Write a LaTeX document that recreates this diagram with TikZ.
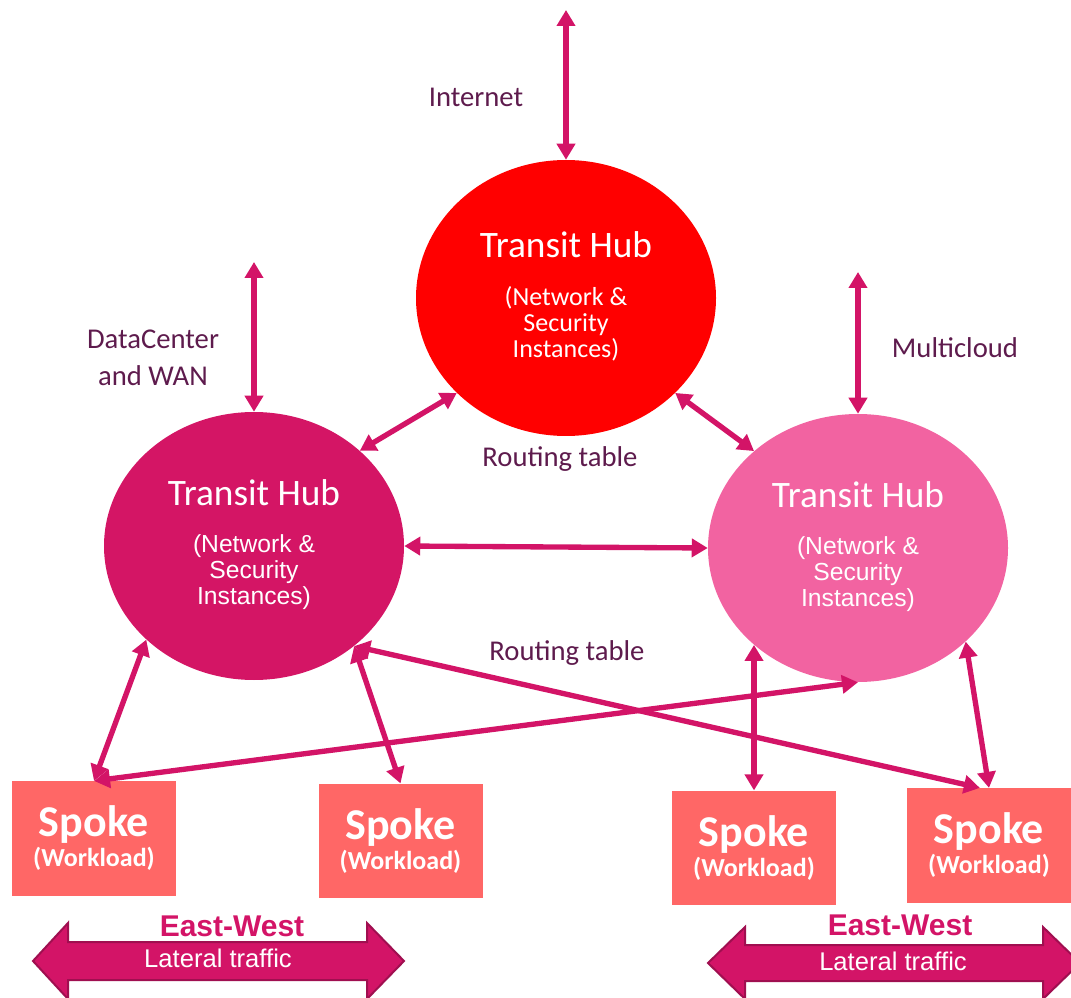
\documentclass[tikz,border=0pt]{standalone}
\usepackage{fontspec}
\setmainfont{Carlito}
\newfontfamily\arialfont{Liberation Sans}
\usetikzlibrary{shapes.geometric,arrows.meta,calc,positioning}
\definecolor{hubred}{HTML}{FF0000}
\definecolor{hubmag}{HTML}{D41565}
\definecolor{hubpink}{HTML}{F263A1}
\definecolor{spokefill}{HTML}{FF6766}
\definecolor{linkc}{HTML}{D31467}
\definecolor{labelc}{HTML}{5E1B4D}
\definecolor{fatedge}{HTML}{A00F50}
\tikzset{
  hub/.style={ellipse, minimum width=225pt, minimum height=201pt, inner sep=0pt},
  hubhead/.style={text=white, font=\fontsize{28}{30}\selectfont},
  hubbody/.style={text=white, align=center, font=\fontsize{19.5}{19.5}\selectfont},
  spoke/.style={rectangle, fill=spokefill, minimum width=123pt, minimum height=86pt,
    inner sep=0pt, text=white, align=center, font=\bfseries\fontsize{33}{22.5}\selectfont},
  lbl/.style={text=labelc, align=center, font=\fontsize{21.5}{27.75}\selectfont},
  link/.style={draw=linkc, line width=4pt, >={Triangle[width=13.5pt,length=12pt]}, <->},
  fat/.style={fill=linkc, draw=fatedge, line width=1.5pt, line join=miter},
  ewhead/.style={text=linkc, font=\arialfont\bfseries\fontsize{22.5}{24}\selectfont},
  ewbody/.style={text=white, font=\arialfont\fontsize{19.2}{21}\selectfont}
}
\begin{document}
\begin{tikzpicture}[x=0.75pt,y=-0.75pt]
\useasboundingbox (0,0) rectangle (1071,998);
% hubs
\node[hub, fill=hubred, minimum height=207pt] (hubT) at (566,298) {};
\node[hub, fill=hubmag] (hubL) at (254,546) {};
\node[hub, fill=hubpink] (hubR) at (858,548) {};
\node[hubhead] at ($(hubT)+(0,-53)$) {Transit Hub};
\node[hubbody] at ($(hubT)+(0,26)$) {(Network \&\\Security\\Instances)};
\node[hubhead] at ($(hubL)+(0,-53)$) {Transit Hub};
\node[hubbody, font=\arialfont\fontsize{18.5}{19.5}\selectfont] at ($(hubL)+(0,26)$) {(Network \&\\Security\\Instances)};
\node[hubhead] at ($(hubR)+(0,-53)$) {Transit Hub};
\node[hubbody, font=\arialfont\fontsize{18.5}{19.5}\selectfont] at ($(hubR)+(0,26)$) {(Network \&\\Security\\Instances)};
% spokes
\node[spoke] (spoke1) at (94,838.5) {Spoke\\{\fontsize{19.5}{22.5}\selectfont (Workload)}};
\node[spoke] (spoke2) at (400.5,841) {Spoke\\{\fontsize{19.5}{22.5}\selectfont (Workload)}};
\node[spoke] (spoke3) at (754,848) {Spoke\\{\fontsize{19.5}{22.5}\selectfont (Workload)}};
\node[spoke] (spoke4) at (989,845.5) {Spoke\\{\fontsize{19.5}{22.5}\selectfont (Workload)}};
% outside links
\coordinate (inet) at (566,10);
\coordinate (dc) at (254,262);
\coordinate (mc) at (858,272);
\node[lbl] (inetlbl) at (476,97) {Internet};
\node[lbl] (dclbl) at (153,358) {DataCenter\\and WAN};
\node[lbl] (mclbl) at (955,348) {Multicloud};
\draw[link] (inet) -- (hubT.north);
\draw[link] (dc) -- (hubL.north);
\draw[link] (mc) -- (hubR.north);
% hub to hub
\draw[link] (hubL.42) -- (hubT.-139);
\draw[link] (hubT.-41) -- (hubR.137);
\draw[link] (hubL.east) -- (hubR.west);
\node[lbl] (rt1) at (560,459) {Routing table};
\node[lbl] (rt2) at (567,653) {Routing table};
% hub to spoke
\draw[link] (hubL.-139) -- (spoke1.north);
\draw[link] (hubL.-45) -- (spoke2.north);
\draw[link] (spoke1.north) -- (hubR.south);
\draw[link] (hubL.-45) -- (spoke4.99);
\draw[link] (spoke3.north) -- (spoke3.north |- hubR.-137);
\draw[link] (hubR.-41) -- (spoke4.north);
% east-west arrows
\filldraw[fat] (33,961) -- (68,923) -- (68,942) -- (367,942) -- (367,923) -- (404,961)
  -- (367,999) -- (367,980) -- (68,980) -- (68,999) -- cycle;
\filldraw[fat] (708,963) -- (745,927) -- (745,945) -- (1043,945) -- (1043,927) -- (1080,963)
  -- (1043,999) -- (1043,981) -- (745,981) -- (745,999) -- cycle;
\node[ewhead] (ew1) at (232,926) {East-West};
\node[ewbody] (lt1) at (218,958) {Lateral traffic};
\node[ewhead] (ew2) at (900,925) {East-West};
\node[ewbody] (lt2) at (893,961) {Lateral traffic};
\end{tikzpicture}
\end{document}
